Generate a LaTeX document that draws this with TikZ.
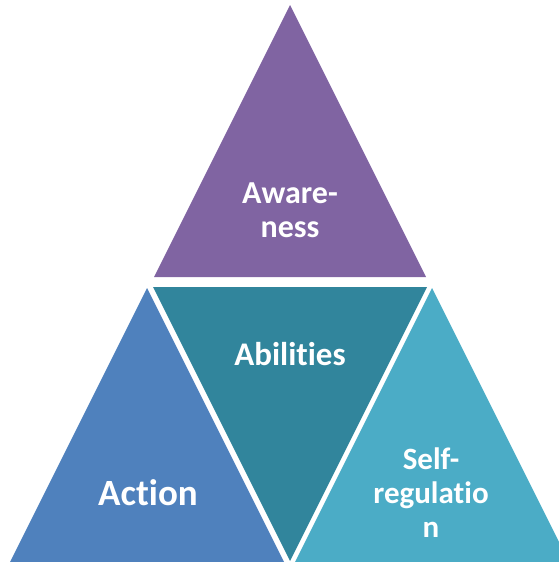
\documentclass[tikz,border=0pt]{standalone}
\usepackage{fontspec}
\setmainfont{Carlito}[Ligatures=NoCommon]
\definecolor{awarecol}{HTML}{8064A2}
\definecolor{abilcol}{HTML}{31859C}
\definecolor{actcol}{HTML}{4F81BD}
\definecolor{selfcol}{HTML}{4BACC6}
\tikzset{
  label text/.style={text=white, font=\bfseries, align=center, inner sep=0pt, anchor=base},
}
\begin{document}
\begin{tikzpicture}[x=1pt, y=-1pt]
  \useasboundingbox (0,0) rectangle (559,562);
  \clip (0,0) rectangle (559,562);
  % four triangles
  \fill[awarecol] (290,5) -- (426,277) -- (154,277) -- cycle;
  \fill[abilcol] (153,287) -- (427,287) -- (290,561) -- cycle;
  \fill[actcol] (147,288) -- (293,580) -- (1,580) -- cycle;
  \fill[selfcol] (432,288) -- (578,580) -- (286,580) -- cycle;
  % labels (base anchor sits on the last line)
  \node[label text, font=\bfseries\fontsize{32}{34}\selectfont] (aware) at (290,237) {Aware-\\ness};
  \node[label text, font=\bfseries\fontsize{33}{36}\selectfont] (abil) at (290,365) {Abilities};
  \node[label text, font=\bfseries\fontsize{37}{38}\selectfont] (act) at (148,505) {Action};
  \node[label text, font=\bfseries\fontsize{31}{34}\selectfont] (selfreg) at (431,537) {Self-\\regulatio\\n};
\end{tikzpicture}
\end{document}
